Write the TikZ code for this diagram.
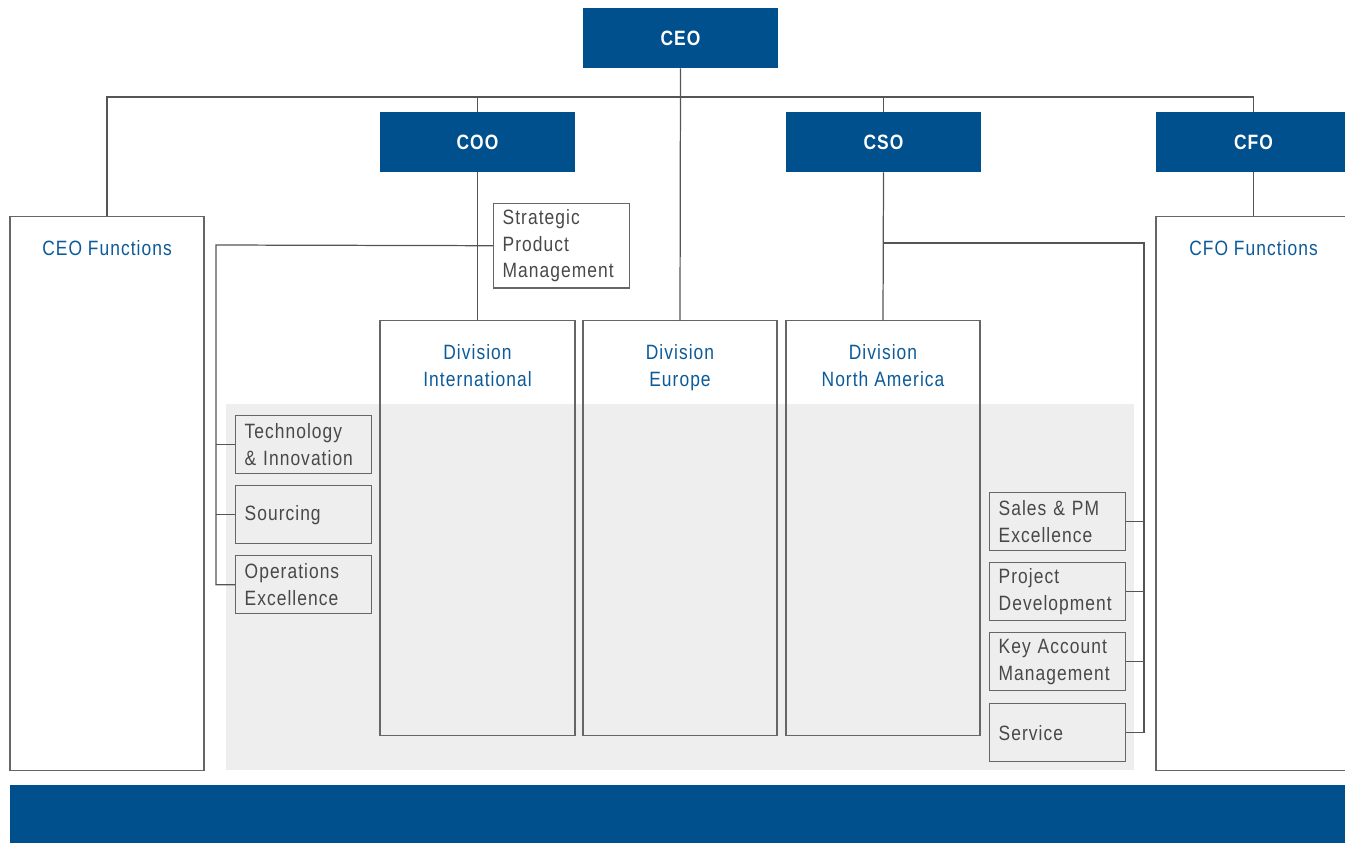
\documentclass[tikz,border=0pt]{standalone}
\usepackage{fontspec}
\setmainfont[FakeStretch=0.84,LetterSpace=5]{Liberation Sans}
\definecolor{deepblue}{HTML}{00508E}
\definecolor{divblue}{HTML}{0B5A99}
\definecolor{darktext}{HTML}{484848}
\definecolor{linegray}{HTML}{555555}
\definecolor{boxgray}{HTML}{666666}
\definecolor{panelgray}{HTML}{EEEEEE}
\newcommand\orgsize{\fontsize{11.8}{15.2}\selectfont}
\tikzset{
  headbox/.style={fill=deepblue, text=white, font=\bfseries\orgsize,
    minimum width=3.9cm, minimum height=1.2cm, inner sep=0pt},
  framebox/.style={draw=boxgray, line width=0.8pt, anchor=north,
    minimum width=3.9cm, inner sep=0pt},
  boxtitle/.style={anchor=north, text=divblue, align=center, font=\orgsize,
    inner sep=0pt, yshift=-0.48cm},
  unitbox/.style={draw=boxgray, line width=0.8pt, text=darktext, font=\orgsize,
    anchor=north west, align=left, text width=2.36cm, inner xsep=0.18cm,
    inner ysep=0pt, minimum height=1.16cm},
  link/.style={draw=linegray, line width=0.7pt}
}
\begin{document}
\begin{tikzpicture}[x=0.02cm,y=-0.02cm]
  \useasboundingbox (0,0) rectangle (1345,843);
  % grey panel behind the divisions
  \fill[panelgray] (226,404) rectangle (1134,770);
  % top management
  \node[headbox] (ceo) at (680.5,38) {CEO};
  \node[headbox] (coo) at (477.5,142) {COO};
  \node[headbox] (cso) at (883.5,142) {CSO};
  \node[headbox] (cfo) at (1253.5,142) {CFO};
  % functions and divisions
  \node[framebox, minimum width=3.88cm, minimum height=11.08cm,
    label={[boxtitle]north:CEO Functions}] (ceofn) at (107,216) {};
  \node[framebox, minimum height=11.08cm,
    label={[boxtitle]north:CFO Functions}] (cfofn) at (1253.5,216) {};
  \node[framebox, minimum height=8.3cm,
    label={[boxtitle]north:{Division\\International}}] (divint) at (477.5,320) {};
  \node[framebox, minimum width=3.88cm, minimum height=8.3cm,
    label={[boxtitle]north:{Division\\Europe}}] (diveu) at (680,320) {};
  \node[framebox, minimum width=3.88cm, minimum height=8.3cm,
    label={[boxtitle]north:{Division\\North America}}] (divna) at (883,320) {};
  % COO units
  \node[unitbox, minimum height=1.7cm] (spm) at (493,202.5) {Strategic\\Product\\Management};
  \node[unitbox] (tech) at (235,415) {Technology\\\& Innovation};
  \node[unitbox] (src) at (235,485) {Sourcing};
  \node[unitbox] (ops) at (235,555) {Operations\\Excellence};
  % CSO units
  \node[unitbox] (sales) at (989,492) {Sales \& PM\\Excellence};
  \node[unitbox] (proj) at (989,562) {Project\\Development};
  \node[unitbox] (kam) at (989,632) {Key Account\\Management};
  \node[unitbox] (serv) at (989,703) {Service};
  % bottom bar
  \fill[deepblue] (10,785) rectangle (1351,843);
  % connectors
  \coordinate (busL) at (107,97);
  \coordinate (busR) at (1253.5,97);
  \draw[link] (ceofn.north) -- (busL) -- (busR) -- (cfo.north);
  \draw[link] (coo.north) -- (coo.north |- busL);
  \draw[link] (cso.north) -- (cso.north |- busL);
  \draw[link] (ceo.south) -- (diveu.north);
  \draw[link] (coo.south) -- (divint.north);
  \draw[link] (cso.south) -- (divna.north);
  \draw[link] (cfo.south) -- (cfofn.north);
  \coordinate (lbus) at (216,245);
  \draw[link] (spm.west) -- (lbus) |- (ops.west);
  \draw[link] (tech.west) -- (tech.west -| lbus);
  \draw[link] (src.west) -- (src.west -| lbus);
  \coordinate (rbus) at (1144,243);
  \draw[link] (cso.south |- rbus) -- (rbus) |- (serv.east);
  \draw[link] (sales.east) -- (sales.east -| rbus);
  \draw[link] (proj.east) -- (proj.east -| rbus);
  \draw[link] (kam.east) -- (kam.east -| rbus);
\end{tikzpicture}
\end{document}
